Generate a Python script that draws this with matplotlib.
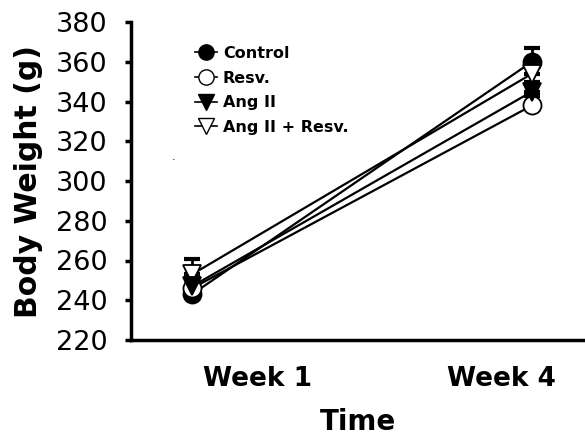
import matplotlib
matplotlib.use("Agg")
import matplotlib.pyplot as plt
from matplotlib.lines import Line2D

# ---- data ----
time_labels = ["Week 1", "Week 4"]
series_names = ["Control", "Resv.", "Ang II", "Ang II + Resv."]
control = [243, 360]
resv = [246, 338]
ang2 = [247, 345]
ang2_resv = [253, 354]
control_err = [4, 7]
resv_err = [4, 5]
ang2_err = [4, 5]
ang2_resv_err = [8, 5]
y_ticks = [220, 240, 260, 280, 300, 320, 340, 360, 380]

plt.rcParams['font.family'] = ['DejaVu Sans']

fig = plt.figure(figsize=(5.85, 4.38), dpi=100)
W, H = 585, 438
ax = fig.add_axes([131 / W, 1 - 340 / H, (W - 131) / W, (340 - 22) / H])

x = [0, 1]
styles = [
    (control, control_err, dict(marker='o', mfc='black', mec='black')),
    (ang2_resv, ang2_resv_err, dict(marker='v', mfc='white', mec='black')),
    (resv, resv_err, dict(marker='o', mfc='white', mec='black')),
    (ang2, ang2_err, dict(marker='v', mfc='black', mec='black')),
]
for i, (vals, err, st) in enumerate(styles):
    ax.errorbar(x, vals, yerr=[[0, 0], err], fmt='none', ecolor='black',
                elinewidth=2, capsize=6, capthick=3, zorder=2 + i * 0.1)
    ax.plot(x, vals, color='black', lw=1.6, ms=13, mew=1.3, zorder=3 + i * 0.1, **st)

# x scale: points at 192 px and 532 px
px_per_unit = 532 - 192
ax.set_xlim(-(192 - 131) / px_per_unit, 1 + (W - 532) / px_per_unit)
ax.set_ylim(220, 380)
ax.set_yticks(y_ticks)
ax.set_yticklabels([str(v) for v in y_ticks], fontsize=19.5)

label_px = [258, 501]
ax.set_xticks([(p - 192) / px_per_unit for p in label_px])
ax.set_xticklabels(time_labels, fontsize=19, fontweight='bold')
ax.tick_params(axis='x', length=0, pad=19)
ax.tick_params(axis='y', direction='out', length=4, width=2.5, pad=13)

for s in ['top', 'right']:
    ax.spines[s].set_visible(False)
for s in ['left', 'bottom']:
    ax.spines[s].set_linewidth(2.5)

ax.set_ylabel("Body Weight (g)", fontsize=21.5, fontweight='bold', labelpad=9)
ax.set_xlabel("Time", fontsize=20, fontweight='bold', labelpad=11)

handles = [
    Line2D([], [], color='black', lw=1.2, marker='o', mfc='black', mec='black', ms=11),
    Line2D([], [], color='black', lw=1.2, marker='o', mfc='white', mec='black', ms=11),
    Line2D([], [], color='black', lw=1.2, marker='v', mfc='black', mec='black', ms=11),
    Line2D([], [], color='black', lw=1.2, marker='v', mfc='white', mec='black', ms=11),
]
leg = ax.legend(handles, series_names, loc='upper left',
                bbox_to_anchor=((195 - 131) / (W - 131), 1 - (46 - 22) / (340 - 22)),
                frameon=False, handlelength=1.4, handletextpad=0.35,
                labelspacing=0.6, borderaxespad=0, borderpad=0,
                prop=dict(size=11.5, weight='bold'))

fig.text(172 / W, 1 - 160 / H, ".", fontsize=8, color='black')

fig.savefig("out.png", dpi=100)
